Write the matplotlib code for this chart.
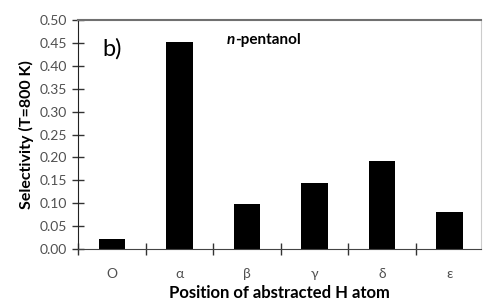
import matplotlib
matplotlib.use("Agg")
import matplotlib.pyplot as plt
import numpy as np

# data
positions = ["O", "α", "β", "γ", "δ", "ε"]
selectivity = [0.021, 0.452, 0.099, 0.144, 0.193, 0.081]
y_ticks = [0.00, 0.05, 0.10, 0.15, 0.20, 0.25, 0.30, 0.35, 0.40, 0.45, 0.50]

plt.rcParams['font.family'] = ['Lato', 'DejaVu Sans']

fig = plt.figure(figsize=(4.83, 3.00), dpi=100)
ax = fig.add_axes([0.1615, 0.17, 0.835, 0.7633])

x = np.arange(len(positions))
ax.bar(x, selectivity, width=0.39, color="black")

ax.set_xlim(-0.5, 5.47)
ax.set_ylim(0, 0.5)
ax.set_yticks(y_ticks)
ax.set_yticklabels([f"{v:.2f}" for v in y_ticks])

ax.set_xticks(x)
ax.set_xticklabels(positions)
ax.set_xticks(np.arange(-0.5, 5.5, 1.0), minor=True)
ax.tick_params(axis="x", which="major", length=0, pad=14, labelsize=10, labelcolor="#505050")
ax.tick_params(axis="x", which="minor", direction="inout", length=9, width=1, color="#333333")
ax.tick_params(axis="y", direction="inout", length=8, width=1, labelsize=10,
               labelcolor="#505050", color="#333333", pad=4)

ax.spines["left"].set_color("#222222")
ax.spines["bottom"].set_color("#444444")
ax.spines["top"].set_color("#707070")
ax.spines["top"].set_linewidth(1.5)
ax.spines["right"].set_color("#cccccc")

ax.set_ylabel("Selectivity (T=800 K)", fontweight="bold", fontsize=11.5, labelpad=4)
ax.set_xlabel("Position of abstracted H atom", fontweight="bold", fontsize=12, labelpad=3)

ax.text(0.06, 0.845, "b)", transform=ax.transAxes, fontsize=17, color="black")
t1 = ax.text(0.368, 0.895, "n", transform=ax.transAxes, fontsize=11,
             fontweight="bold", fontstyle="italic")
ax.annotate("-pentanol", xy=(1, 0), xycoords=t1, fontsize=11, fontweight="bold",
            va="bottom", ha="left")

fig.savefig("out.png", dpi=100)
